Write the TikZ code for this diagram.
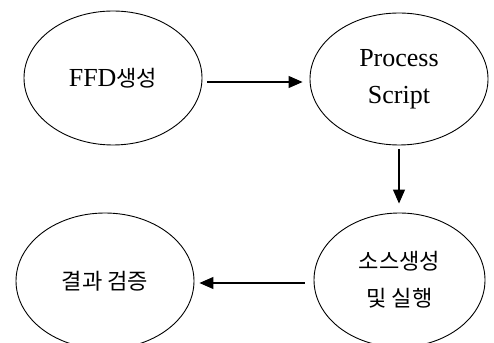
\documentclass[tikz,border=0pt]{standalone}
\usepackage{fontspec}
\setmainfont{Liberation Serif}
\newfontfamily\kr[Scale=0.85]{Noto Sans CJK KR}
\usetikzlibrary{arrows.meta, shapes.geometric}

\begin{document}
\begin{tikzpicture}[x=1pt, y=1pt,
    stage/.style={draw, ellipse, line width=0.9pt, minimum width=178pt, minimum height=134pt,
        inner sep=0pt, align=center, font=\fontsize{26}{37}\selectfont},
    flow/.style={line width=1.2pt, -{Triangle[length=14pt, width=12pt]}}]
    \useasboundingbox (0,0) rectangle (494,342);

    % stages
    \node[stage] (ffd)  at (113,264) {FFD{\kr 생성}};
    \node[stage, minimum height=132pt] (proc) at (399,263) {Process\\Script};
    \node[stage, minimum width=171pt] (src)  at (399.5,62) {{\kr 소스생성}\\{\kr 및 실행}};
    \node[stage, minimum height=136pt] (chk)  at (105,61) {{\kr 결과 검증}};

    % flow
    \draw[flow, shorten <=5pt, shorten >=7pt] ([yshift=-4pt]ffd.east) -- ([yshift=-4pt]ffd.east -| proc.west);
    \draw[flow, shorten <=4pt, shorten >=9pt] (proc.south) -- (proc.south |- src.north);
    \draw[flow, shorten <=9pt, shorten >=5pt] ([yshift=-3pt]src.west) -- ([yshift=-3pt]src.west -| chk.east);
\end{tikzpicture}
\end{document}
